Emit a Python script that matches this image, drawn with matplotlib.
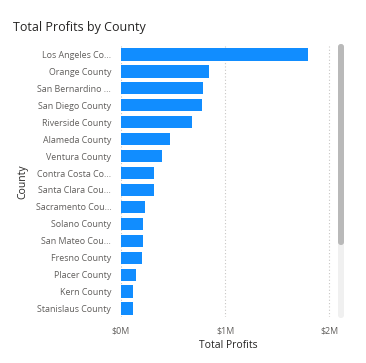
import matplotlib
matplotlib.use("Agg")
import matplotlib.pyplot as plt
from matplotlib.patches import FancyBboxPatch
from matplotlib.ticker import FuncFormatter

counties = ["Los Angeles Co...", "Orange County", "San Bernardino ...", "San Diego County",
            "Riverside County", "Alameda County", "Ventura County", "Contra Costa Co...",
            "Santa Clara Cou...", "Sacramento Cou...", "Solano County", "San Mateo Cou...",
            "Fresno County", "Placer County", "Kern County", "Stanislaus County"]
profits_m = [1.80, 0.846, 0.79, 0.776, 0.686, 0.47, 0.397, 0.32, 0.315, 0.23,
             0.215, 0.214, 0.20, 0.14, 0.12, 0.113]
x_ticks = [0, 1, 2]

W, H = 366, 363
fig = plt.figure(figsize=(W/100, H/100), dpi=100)
fig.patch.set_facecolor("white")
font = "Open Sans"

ax_l, ax_r = 121, 335
ax_t, ax_b = 46, 317
ax = fig.add_axes([ax_l/W, 1-ax_b/H, (ax_r-ax_l)/W, (ax_b-ax_t)/H])
ypos = list(range(len(counties)))
ax.barh(ypos, profits_m, height=0.72, color="#118DFF", zorder=3)
ax.set_ylim(len(counties)-0.5, -0.5)
ax.set_xlim(0, 2.055)
ax.set_yticks(ypos)
ax.set_yticklabels(counties, fontsize=6.4, color="#605E5C", family=font)
ax.set_xticks(x_ticks)
ax.xaxis.set_major_formatter(FuncFormatter(lambda v, p: f"${int(v)}M"))
for lab in ax.get_xticklabels():
    lab.set_fontsize(6.4); lab.set_color("#605E5C"); lab.set_family(font)
ax.tick_params(length=0)
ax.tick_params(axis="y", pad=7)
ax.tick_params(axis="x", pad=7)
for s in ax.spines.values():
    s.set_visible(False)
ax.grid(axis="x", color="#C8C6C4", linestyle=(0, (1, 2)), linewidth=0.8, zorder=0)
ax.set_xlabel("Total Profits", fontsize=7.5, color="#252423", family=font, labelpad=3)
ax.set_ylabel("County", fontsize=7.5, color="#252423", family=font, labelpad=5)

fig.text(13/W, 1-27/H, "Total Profits by County", fontsize=9, color="#252423",
         family=font, va="center", ha="left")

# scrollbar
sx, sw = 338, 6
fig.patches.append(FancyBboxPatch((sx/W, 1-318/H), sw/W, (318-44)/H,
                                  boxstyle="round,pad=0,rounding_size=0.008",
                                  transform=fig.transFigure, facecolor="#F0F0F0",
                                  edgecolor="none"))
fig.patches.append(FancyBboxPatch((sx/W, 1-245/H), sw/W, (245-44)/H,
                                  boxstyle="round,pad=0,rounding_size=0.008",
                                  transform=fig.transFigure, facecolor="#B9B9B9",
                                  edgecolor="none"))

fig.savefig("out.png", dpi=100)
